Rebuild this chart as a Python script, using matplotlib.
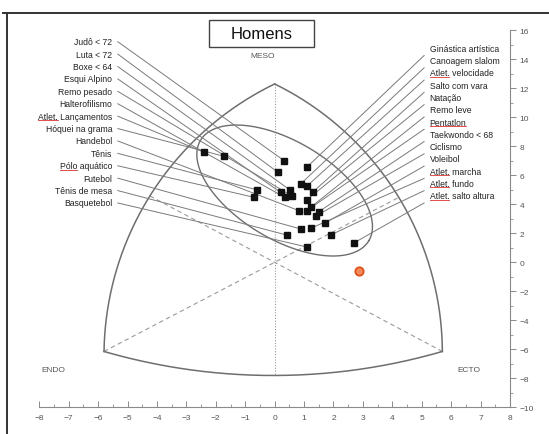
import numpy as np
import matplotlib
matplotlib.use("Agg")
import matplotlib.pyplot as plt
from matplotlib.patches import Rectangle
from matplotlib.lines import Line2D

plt.rcParams['font.family'] = ['Liberation Sans', 'DejaVu Sans']

# ---------------- data ----------------
left_labels = ["Judô < 72", "Luta < 72", "Boxe < 64", "Esqui Alpino", "Remo pesado",
               "Halterofilismo", "Atlet. Lançamentos", "Hóquei na grama", "Handebol",
               "Tênis", "Pólo aquático", "Futebol", "Tênis de mesa", "Basquetebol"]
left_x = [0.32, 0.11, 0.52, 0.20, 0.60, 0.34, -2.40, -1.72, 0.83, -0.59, -0.70, 0.88, 0.41, 1.09]
left_y = [7.01, 6.21, 4.99, 4.83, 4.55, 4.48, 7.59, 7.31, 3.56, 4.99, 4.48, 2.30, 1.88, 1.06]

right_labels = ["Ginástica artística", "Canoagem slalom", "Atlet. velocidade", "Salto com vara",
                "Natação", "Remo leve", "Pentatlon", "Taekwondo < 68", "Ciclismo", "Voleibol",
                "Atlet. marcha", "Atlet. fundo", "Atlet. salto altura"]
right_x = [1.09, 0.88, 1.11, 1.31, 1.09, 1.22, 1.09, 1.50, 1.39, 1.70, 1.22, 1.90, 2.69]
right_y = [6.55, 5.40, 5.28, 4.87, 4.30, 3.79, 3.56, 3.49, 3.17, 2.69, 2.34, 1.88, 1.33]

ref_x = [2.86]
ref_y = [-0.58]

underline_prefix = {"Atlet. Lançamentos": "Atlet.", "Pólo aquático": "Pólo",
                    "Atlet. velocidade": "Atlet.", "Pentatlon": "Pentatlon",
                    "Atlet. marcha": "Atlet.", "Atlet. fundo": "Atlet.",
                    "Atlet. salto altura": "Atlet."}

# ---------------- figure ----------------
W, H = 549, 435
fig = plt.figure(figsize=(W / 100, H / 100), dpi=100)
ax = fig.add_axes([39.3 / W, (H - 408.3) / H, 470.7 / W, 377 / H])
ax.set_xlim(-8, 8)
ax.set_ylim(-10, 16)

SX, SY = 29.42, 14.5   # pixel per unit (display space)

def to_disp(p):
    return np.array([p[0] * SX, p[1] * SY])

def to_data(d):
    return d[..., 0] / SX, d[..., 1] / SY

endo = (-5.8, -6.15)
meso = (0.0, 12.3)
ecto = (5.7, -6.15)

def arc(p1, p2, sag, n=200):
    a, b = to_disp(p1), to_disp(p2)
    m = (a + b) / 2
    c = b - a
    h = np.linalg.norm(c) / 2
    nrm = np.array([-c[1], c[0]]) / np.linalg.norm(c)
    if np.dot(nrm, m) < 0:
        nrm = -nrm
    R = (h ** 2 + sag ** 2) / (2 * sag)
    C = m - (R - sag) * nrm
    a1 = np.arctan2(*(a - C)[::-1])
    a2 = np.arctan2(*(b - C)[::-1])
    d = (a2 - a1 + np.pi) % (2 * np.pi) - np.pi
    t = a1 + np.linspace(0, 1, n) * d
    pts = np.stack([C[0] + R * np.cos(t), C[1] + R * np.sin(t)], axis=1)
    return pts, C, R

outline_col = '#6e6e6e'
arcs = []
for p1, p2, s in [(endo, meso, 45), (meso, ecto, 45), (ecto, endo, 24)]:
    pts, C, R = arc(p1, p2, s)
    arcs.append((C, R))
    x, y = to_data(pts)
    ax.plot(x, y, color=outline_col, lw=1.1, zorder=2)

def ray_hit(direction, C, R):
    d = direction / np.linalg.norm(direction)
    bq = -2 * np.dot(d, C)
    cq = np.dot(C, C) - R ** 2
    t = (-bq + np.sqrt(bq ** 2 - 4 * cq)) / 2
    return t * d

dash_col = '#9a9a9a'
for vert, (C, R) in [(endo, arcs[1]), (ecto, arcs[0])]:
    v = to_disp(vert)
    hit = ray_hit(-v, C, R)
    seg = np.stack([v, hit])
    x, y = to_data(seg)
    ax.plot(x, y, color=dash_col, lw=0.8, ls=(0, (4, 3)), zorder=1)
C, R = arcs[2]
bottom = ray_hit(np.array([0.0, -1.0]), C, R)
ax.plot([0, 0], [meso[1], bottom[1] / SY], color=dash_col, lw=0.8, ls=(0, (1, 1.5)), zorder=1)

# ellipse
cx, cy = 0.34, 4.95
ea, eb, ang = 98, 49, np.deg2rad(-30.8)
phi = np.linspace(0, 2 * np.pi, 300)
u = ea * np.cos(phi) * np.cos(ang) - eb * np.sin(phi) * np.sin(ang)
v = ea * np.cos(phi) * np.sin(ang) + eb * np.sin(phi) * np.cos(ang)
ax.plot(cx + u / SX, cy + v / SY, color=outline_col, lw=1.0, zorder=2)

# leader lines and labels
lab_fs = 6.2
line_col = '#7a7a7a'
left_ly = np.linspace(15.21, 4.09, len(left_labels))
right_ly = np.linspace(14.76, 4.59, len(right_labels))
texts = []
for lab, px, py, ly in zip(left_labels, left_x, left_y, left_ly):
    ax.plot([-5.33, px], [ly, py], color=line_col, lw=0.7, zorder=3)
    t = ax.text(-5.52, ly, lab, ha='right', va='center', fontsize=lab_fs, color='#222222')
    texts.append((t, lab))
for lab, px, py, ly in zip(right_labels, right_x, right_y, right_ly):
    ax.plot([5.08, px], [ly - 0.5, py], color=line_col, lw=0.7, zorder=3)
    t = ax.text(5.27, ly, lab, ha='left', va='center', fontsize=lab_fs, color='#222222')
    texts.append((t, lab))

ax.plot(left_x + right_x, left_y + right_y, ls='none', marker='s', ms=3.8,
        color='#111111', zorder=5)
ax.plot(ref_x, ref_y, ls='none', marker='o', ms=6, mfc='#f38a5a', mec='#e0501a',
        mew=1.3, zorder=5)

# corner labels
ax.text(-0.41, 14.23, "MESO", ha='center', va='center', fontsize=6, color='#555555')
ax.text(-7.51, -7.36, "ENDO", ha='center', va='center', fontsize=6, color='#555555')
ax.text(6.59, -7.36, "ECTO", ha='center', va='center', fontsize=6, color='#555555')

# axes styling
for s in ['top', 'left']:
    ax.spines[s].set_visible(False)
for s in ['bottom', 'right']:
    ax.spines[s].set_color('#8a8a8a')
    ax.spines[s].set_linewidth(0.8)
ax.yaxis.tick_right()
ax.set_xticks(np.arange(-8, 9, 1))
ax.set_xticks(np.arange(-8, 8.5, 0.5), minor=True)
ax.set_yticks(np.arange(-10, 17, 2))
ax.set_yticks(np.arange(-10, 17, 1), minor=True)
ax.tick_params(axis='x', which='major', direction='in', length=4, width=0.7,
               colors='#8a8a8a', labelcolor='#555555', labelsize=6, pad=5)
ax.tick_params(axis='x', which='minor', direction='in', length=2, width=0.6, colors='#8a8a8a')
ax.tick_params(axis='y', which='major', direction='out', length=4, width=0.7,
               colors='#8a8a8a', labelcolor='#555555', labelsize=6, pad=3,
               right=True, left=False)
ax.tick_params(axis='y', which='minor', direction='out', length=2, width=0.6,
               colors='#8a8a8a', right=True, left=False)
ax.patch.set_alpha(0)

# title box
fig.patches.append(Rectangle((209 / W, 1 - 47.7 / H), 105 / W, 26.7 / H,
                             transform=fig.transFigure, fill=False,
                             edgecolor='#444444', lw=1.0))
fig.text(261.5 / W, 1 - 34.3 / H, "Homens", ha='center', va='center',
         fontsize=12, color='#111111')

# outer frame lines (top and left)
fig.add_artist(Line2D([3 / W, 1], [1 - 14 / H, 1 - 14 / H], transform=fig.transFigure,
                      color='#333333', lw=1.4))
fig.add_artist(Line2D([7 / W, 7 / W], [0, 1 - 14 / H], transform=fig.transFigure,
                      color='#333333', lw=1.4))

# red spell-check underlines
fig.canvas.draw()
r = fig.canvas.get_renderer()
for t, lab in texts:
    if lab in underline_prefix:
        bb = t.get_window_extent(r)
        tmp = ax.text(0, 0, underline_prefix[lab], fontsize=lab_fs)
        wb = tmp.get_window_extent(r)
        tmp.remove()
        x0 = bb.x0
        x1 = bb.x0 + wb.width
        yb = bb.y0 + 0.5
        fig.add_artist(Line2D([x0 / W, x1 / W], [yb / H, yb / H], transform=fig.transFigure,
                              color='#e03030', lw=0.6))

fig.savefig("out.png", dpi=100)
